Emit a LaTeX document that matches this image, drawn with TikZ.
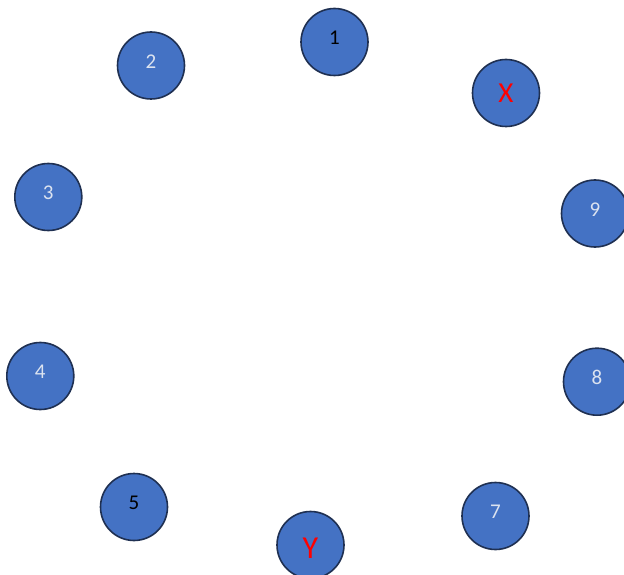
\documentclass[tikz,border=0pt]{standalone}
\usepackage{fontspec}
\setmainfont{Carlito}
\definecolor{ballblue}{HTML}{4472C4}
\definecolor{balledge}{HTML}{1F3052}
\definecolor{balltext}{HTML}{DCE3F0}
\tikzset{
  ball/.style={circle,fill=ballblue,draw=balledge,line width=1.6pt,minimum size=67pt,inner sep=0pt,
    font=\fontsize{21}{21}\selectfont,text depth=8pt},
  pale/.style={text=balltext},
  redtext/.style={text=red,text depth=0pt}
}
\begin{document}
\begin{tikzpicture}[x=1pt,y=-1pt]
            \useasboundingbox (0,0) rectangle (624,575);

            \node[ball] (1) at (334.5,42) {1};
            \node[ball,pale] (2) at (151,65.5) {2};
            \node[ball,pale] (3) at (48.3,197) {3};
            \node[ball,pale] (4) at (40.3,376) {4};
            \node[ball] (5) at (134,507) {5};
            \node[ball,pale] (7) at (495.5,516) {7};
            \node[ball,pale] (8) at (597,381.7) {8};
            \node[ball,pale] (9) at (595,213.5) {9};

            \node[ball,redtext,font=\fontsize{29}{29}\selectfont] (X) at (506,93) {X};
            \node[ball,redtext,font=\fontsize{32}{32}\selectfont,text height=27pt] (Y) at (310.5,545) {Y};
        \end{tikzpicture}
\end{document}
